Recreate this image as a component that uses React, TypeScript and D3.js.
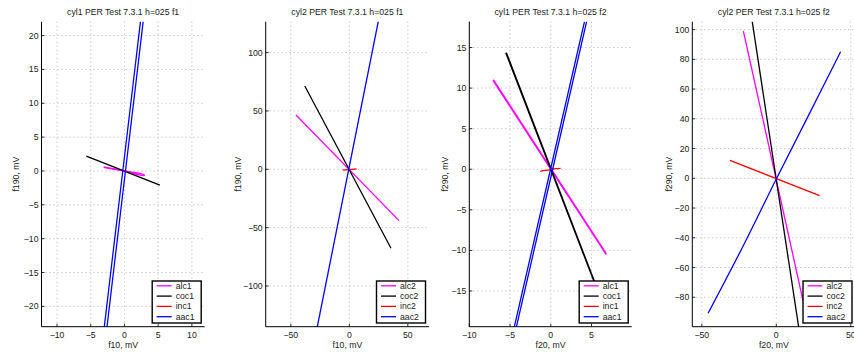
import React from 'react';
import * as d3 from 'd3';

type Pt = [number, number];

// ---------- Data ----------
// Panel 1: cyl1 f1
const p1Alc1: Pt[] = [[-3.1, 0.62], [0, 0.03], [2.92, -0.55], [2.92, -0.68], [0, -0.05], [-3.1, 0.52]];
const p1Coc1: Pt[] = [[-5.65, 2.2], [5.25, -2.1]];
const p1Inc1: Pt[] = [[-0.35, 0.05], [0.35, -0.05]];
const p1Aac1: Pt[] = [[-2.94, -26], [-1.4, -13], [0.15, 0], [1.7, 13], [3.24, 26], [2.84, 26], [1.3, 13], [-0.25, 0], [-1.8, -13], [-3.34, -26]];

// Panel 2: cyl2 f1
const p2Alc2: Pt[] = [[-45.6, 46.5], [42.5, -44]];
const p2Coc2: Pt[] = [[-38.1, 71.4], [35.6, -67.7]];
const p2Inc2: Pt[] = [[-5.6, -0.7], [0, -0.2], [6.2, 0.4]];
const p2Aac2: Pt[] = [[-28.2, -139], [25.6, 131]];

// Panel 3: cyl1 f2
const p3Alc1: Pt[] = [[-7.1, 10.96], [6.77, -10.47], [6.77, -10.33], [-7.05, 11.05]];
const p3Coc1: Pt[] = [[-5.53, 14.36], [5.6, -14.6], [5.66, -14.6], [-5.45, 14.36]];
const p3Inc1: Pt[] = [[-1.3, -0.25], [-0.7, -0.15], [0, -0.05], [0.6, 0.08], [1.2, 0.12]];
const p3Aac1: Pt[] = [[-4.58, -21], [0.23, 0], [5.04, 21], [4.78, 21], [-0.03, 0], [-4.84, -21]];

// Panel 4: cyl2 f2
const p4Alc2: Pt[] = [[-22.1, 99], [21.2, -97]];
const p4Coc2: Pt[] = [[-17, 111], [16.1, -107]];
const p4Inc2: Pt[] = [[-31.1, 12.1], [29.1, -11.7]];
const p4Aac2: Pt[] = [[-45.8, -90.8], [-22, -45], [0, -0.5], [22, 43], [43.2, 85.1]];

const titles = [
  'cyl1 PER Test 7.3.1 h=025 f1',
  'cyl2 PER Test 7.3.1 h=025 f1',
  'cyl1 PER Test 7.3.1 h=025 f2',
  'cyl2 PER Test 7.3.1 h=025 f2',
];
const xLabels = ['f10, mV', 'f10, mV', 'f20, mV', 'f20, mV'];
const yLabels = ['f190, mV', 'f190, mV', 'f290, mV', 'f290, mV'];
const legend1 = ['alc1', 'coc1', 'inc1', 'aac1'];
const legend2 = ['alc2', 'coc2', 'inc2', 'aac2'];

const xTicks1 = [-10, -5, 0, 5, 10];
const yTicks1 = [-20, -15, -10, -5, 0, 5, 10, 15, 20];
const xTicks2 = [-50, 0, 50];
const yTicks2 = [-100, -50, 0, 50, 100];
const xTicks3 = [-10, -5, 0, 5];
const yTicks3 = [-15, -10, -5, 0, 5, 10, 15];
const xTicks4 = [-50, 0, 50];
const yTicks4 = [-80, -60, -40, -20, 0, 20, 40, 60, 80, 100];

const xDomains: Pt[] = [[-12.3, 11.9], [-71.5, 68.1], [-10, 9.93], [-56.4, 53.2]];
const yDomains: Pt[] = [[-23.0, 22.05], [-134.9, 126.5], [-19.4, 18.18], [-99.8, 105.3]];

const seriesColors = ['#ff00ff', '#000000', '#ff0000', '#0000ff'];

// ---------- Layout ----------
const boxes = [
  { left: 41.5, right: 204.7, ylab: 16 },
  { left: 265.7, right: 429, ylab: 238 },
  { left: 469.3, right: 631.7, ylab: 445 },
  { left: 692.3, right: 855.5, ylab: 668.5 },
];
const TOP = 21.7;
const BOTTOM = 326.7;
const FONT = 'Liberation Sans, Arial, Helvetica, sans-serif';
const FS = 8.7;

const panels = [
  { series: [p1Alc1, p1Coc1, p1Inc1, p1Aac1], xTicks: xTicks1, yTicks: yTicks1, legend: legend1 },
  { series: [p2Alc2, p2Coc2, p2Inc2, p2Aac2], xTicks: xTicks2, yTicks: yTicks2, legend: legend2 },
  { series: [p3Alc1, p3Coc1, p3Inc1, p3Aac1], xTicks: xTicks3, yTicks: yTicks3, legend: legend1 },
  { series: [p4Alc2, p4Coc2, p4Inc2, p4Aac2], xTicks: xTicks4, yTicks: yTicks4, legend: legend2 },
];

const fmt = (v: number) => (v < 0 ? '\u2212' + Math.abs(v) : String(v));

function Panel({ i }: { i: number }) {
  const p = panels[i];
  const b = boxes[i];
  const x = d3.scaleLinear().domain(xDomains[i]).range([b.left, b.right]);
  const y = d3.scaleLinear().domain(yDomains[i]).range([BOTTOM, TOP]);
  const line = d3.line<Pt>().x((d) => x(d[0])).y((d) => y(d[1]));
  const smooth = d3.line<Pt>().x((d) => x(d[0])).y((d) => y(d[1])).curve(d3.curveCatmullRom);
  const clipId = `clip${i}`;
  const legW = 49;
  const legH = 42;
  const legR = b.right - 3.5;
  const legL = legR - legW;
  const legT = 281;
  const cx = (b.left + b.right) / 2;
  return (
    <g>
      <defs>
        <clipPath id={clipId}>
          <rect x={b.left} y={TOP} width={b.right - b.left} height={BOTTOM - TOP} />
        </clipPath>
      </defs>
      {/* grid */}
      <g stroke="#a0a0a0" strokeWidth={0.8} strokeDasharray="1,3">
        {p.xTicks.map((t) => (
          <line key={'gx' + t} x1={x(t)} x2={x(t)} y1={TOP} y2={BOTTOM} />
        ))}
        {p.yTicks.map((t) => (
          <line key={'gy' + t} x1={b.left} x2={b.right} y1={y(t)} y2={y(t)} />
        ))}
      </g>
      {/* series */}
      <g clipPath={`url(#${clipId})`} fill="none">
        {p.series.map((s, k) => (
          <path
            key={k}
            d={(s.length > 4 && !(i === 0 && k === 3) && !(i === 2 && k === 3) ? smooth(s) : line(s)) || ''}
            stroke={seriesColors[k]}
            strokeWidth={1.3}
            strokeLinejoin="round"
          />
        ))}
      </g>
      {/* axes */}
      <line x1={b.left} x2={b.right} y1={BOTTOM} y2={BOTTOM} stroke="#000" strokeWidth={1} />
      <line x1={b.left} x2={b.left} y1={TOP} y2={BOTTOM} stroke="#000" strokeWidth={1} />
      {p.xTicks.map((t) => (
        <g key={'tx' + t}>
          <line x1={x(t)} x2={x(t)} y1={BOTTOM} y2={BOTTOM - 3} stroke="#000" strokeWidth={0.8} />
          <text x={x(t)} y={338} textAnchor="middle" fontSize={FS} fontFamily={FONT} fill="#222">
            {fmt(t)}
          </text>
        </g>
      ))}
      {p.yTicks.map((t) => (
        <g key={'ty' + t}>
          <line x1={b.left} x2={b.left + 3} y1={y(t)} y2={y(t)} stroke="#000" strokeWidth={0.8} />
          <text x={b.left - 3} y={y(t) + 3} textAnchor="end" fontSize={FS} fontFamily={FONT} fill="#222">
            {fmt(t)}
          </text>
        </g>
      ))}
      {/* labels */}
      <text x={cx} y={15} textAnchor="middle" fontSize={FS} fontFamily={FONT} fill="#222">
        {titles[i]}
      </text>
      <text x={cx} y={347.5} textAnchor="middle" fontSize={FS} fontFamily={FONT} fill="#222">
        {xLabels[i]}
      </text>
      <text
        transform={`translate(${b.ylab + 3},${(TOP + BOTTOM) / 2}) rotate(-90)`}
        textAnchor="middle"
        fontSize={FS}
        fontFamily={FONT}
        fill="#222"
      >
        {yLabels[i]}
      </text>
      {/* legend */}
      <rect x={legL} y={legT} width={legW} height={legH} fill="#fff" stroke="#000" strokeWidth={1.4} />
      {p.legend.map((name, k) => {
        const ly = legT + 4.8 + k * 10.3;
        return (
          <g key={name}>
            <line x1={legL + 4.5} x2={legL + 19.5} y1={ly} y2={ly} stroke={seriesColors[k]} strokeWidth={1.3} />
            <text x={legL + 23.5} y={ly + 3} fontSize={FS} fontFamily={FONT} fill="#222">
              {name}
            </text>
          </g>
        );
      })}
    </g>
  );
}

export default function App() {
  return (
    <svg
      width={854}
      height={354}
      style={{ position: 'fixed', left: 0, top: 0, background: '#fff', display: 'block' }}
    >
      <rect width={854} height={354} fill="#fff" />
      {[0, 1, 2, 3].map((i) => (
        <Panel key={i} i={i} />
      ))}
    </svg>
  );
}
